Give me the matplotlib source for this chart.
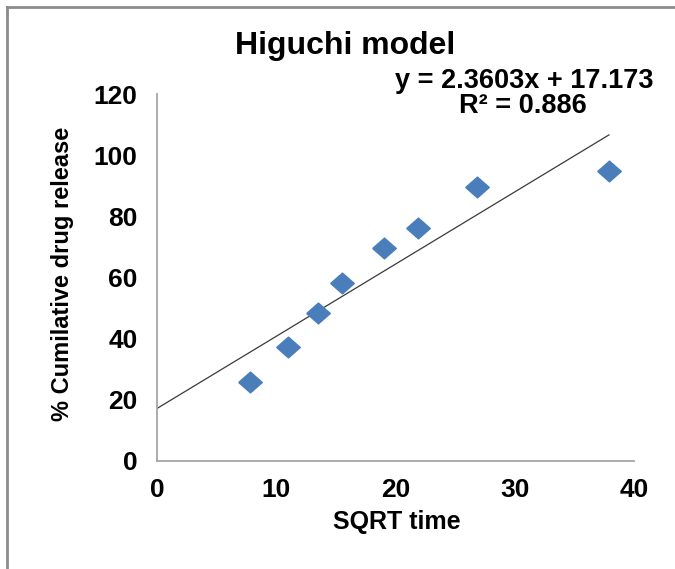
#!/usr/bin/env python3
"""Higuchi model plot: cumulative drug release vs square root of time."""
import numpy as np
import matplotlib
matplotlib.use("Agg")
import matplotlib.pyplot as plt
from matplotlib.lines import Line2D

# sqrt(time) and % cumulative drug release
sqrt_time = [7.8, 11.0, 13.5, 15.5, 19.05, 21.9, 26.85, 37.9]
release = [25.9, 37.2, 48.5, 58.1, 69.8, 76.1, 89.5, 94.8]

# linear trendline reported on the chart
slope = 2.3603
intercept = 17.173
r_squared = 0.886

x_ticks = [0, 10, 20, 30, 40]
y_ticks = [0, 20, 40, 60, 80, 100, 120]

plt.rcParams.update({
    "font.family": ["Liberation Sans", "DejaVu Sans"],
    "font.weight": "bold",
})

W, H = 675, 569
fig = plt.figure(figsize=(W / 100, H / 100), dpi=100)
ax = fig.add_axes([157 / W, 1 - 461 / H, (634 - 157) / W, (461 - 94) / H])

# slightly flattened diamond, like the spreadsheet default marker
diamond = [(-1, 0), (0, 0.88), (1, 0), (0, -0.88), (-1, 0)]
ax.plot(sqrt_time, release, linestyle="none", marker=diamond,
        markersize=17, color="#4a7ebb", zorder=3)

xs = np.array([0, max(sqrt_time)])
ax.plot(xs, slope * xs + intercept, color="#3a3a3a", linewidth=0.9, zorder=2)

ax.set_xlim(0, 40)
ax.set_ylim(0, 120)
ax.set_xticks(x_ticks)
ax.set_yticks(y_ticks)
ax.tick_params(length=0, labelsize=19)
ax.tick_params(axis="y", pad=14)
ax.tick_params(axis="x", pad=12)
for lbl in ax.get_xticklabels() + ax.get_yticklabels():
    lbl.set_fontweight("bold")

for side in ("top", "right"):
    ax.spines[side].set_visible(False)
for side in ("left", "bottom"):
    ax.spines[side].set_color("#a6a6a6")
    ax.spines[side].set_linewidth(1.3)

fig.text(345 / W, 1 - 46 / H, "Higuchi model", ha="center", va="center",
         fontsize=23, fontweight="bold")
fig.text(524 / W, 1 - 81 / H, f"y = {slope}x + {intercept}", ha="center",
         va="center", fontsize=19.5, fontweight="bold")
fig.text(523 / W, 1 - 106 / H, f"R² = {r_squared}", ha="center",
         va="center", fontsize=19.5, fontweight="bold")

fig.text(63 / W, 1 - 274 / H, "% Cumilative drug release", rotation=90,
         ha="center", va="center", fontsize=17, fontweight="bold")
fig.text(397 / W, 1 - 522 / H, "SQRT time", ha="center", va="center",
         fontsize=18, fontweight="bold")

# chart frame, visible on the top and left edges only
fig.add_artist(Line2D([7 / W, 1], [1 - 7 / H, 1 - 7 / H], color="#8c8c8c",
                      linewidth=2, transform=fig.transFigure))
fig.add_artist(Line2D([7 / W, 7 / W], [0, 1 - 7 / H], color="#8c8c8c",
                      linewidth=2, transform=fig.transFigure))

fig.savefig("out.png", dpi=100)
